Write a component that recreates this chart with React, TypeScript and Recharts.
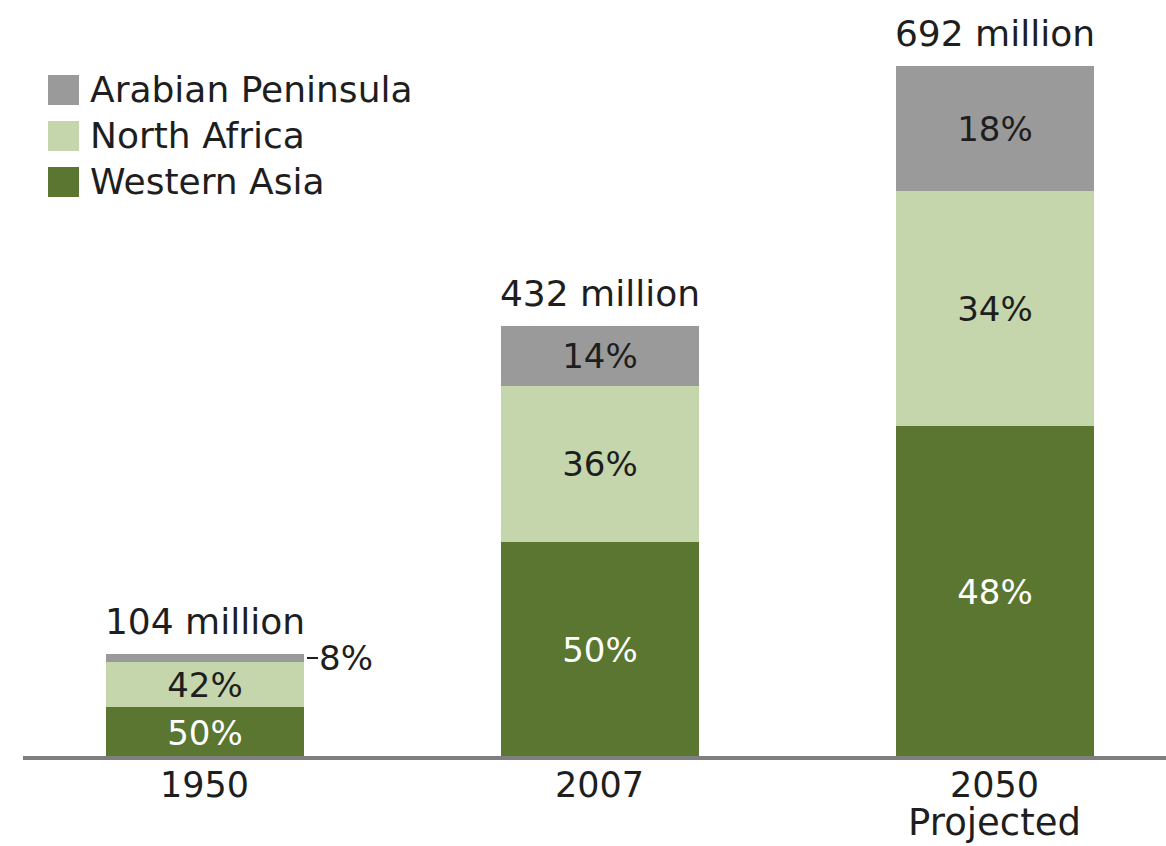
import React from 'react';
import { BarChart, Bar, XAxis, YAxis, Legend, LabelList } from 'recharts';

const years = ['1950', '2007', '2050'];
const yearNotes = ['', '', 'Projected'];
const westernAsia = [51, 216, 332];
const northAfrica = [45, 156, 235];
const arabianPeninsula = [8, 60, 125];
const totals = [104, 432, 692];
const westernAsiaPct = [50, 50, 48];
const northAfricaPct = [42, 36, 34];
const arabianPeninsulaPct = [8, 14, 18];

const WA_COLOR = '#5a7630';
const NA_COLOR = '#c5d6ad';
const AP_COLOR = '#9a9a9a';
const TEXT = '#1e1e1e';
const FONT = '"DejaVu Sans", Verdana, sans-serif';

const data = years.map((year, i) => ({
  year,
  wa: westernAsia[i],
  na: northAfrica[i],
  ap: arabianPeninsula[i],
}));

const pctLabel = (pcts: number[], color: string) => (props: any) => {
  const { x, y, width, height, index } = props;
  const txt = `${pcts[index]}%`;
  if (height < 20) {
    const cy = y + height / 2;
    return (
      <g>
        <line x1={x + width + 3} x2={x + width + 14} y1={cy} y2={cy} stroke={TEXT} strokeWidth={2} />
        <text x={x + width + 15} y={cy} dy="0.36em" fill={TEXT} fontSize={34} fontFamily={FONT} textAnchor="start">
          {txt}
        </text>
      </g>
    );
  }
  return (
    <text x={x + width / 2} y={y + height / 2} dy="0.36em" fill={color} fontSize={34} fontFamily={FONT} textAnchor="middle">
      {txt}
    </text>
  );
};

const totalLabel = (props: any) => {
  const { x, y, width, index } = props;
  return (
    <text x={x + width / 2} y={y - 20} fill={TEXT} fontSize={36} fontFamily={FONT} textAnchor="middle">
      {`${totals[index]} million`}
    </text>
  );
};

const YearTick = (props: any) => {
  const { x, y, payload } = props;
  const i = years.indexOf(payload.value);
  return (
    <text x={x} y={y + 39} fill={TEXT} fontSize={35} fontFamily={FONT} textAnchor="middle">
      <tspan x={x}>{payload.value}</tspan>
      {yearNotes[i] ? (
        <tspan x={x} dy={38} fontSize={37}>
          {yearNotes[i]}
        </tspan>
      ) : null}
    </text>
  );
};

const LegendContent = (props: any) => {
  const items = [...(props.payload || [])];
  return (
    <div style={{ fontFamily: FONT, fontSize: 36, color: TEXT }}>
      {items.map((it: any) => (
        <div key={it.value} style={{ display: 'flex', alignItems: 'center', height: 30, marginBottom: 16 }}>
          <div style={{ width: 31, height: 30, background: it.color, marginRight: 11 }} />
          <span style={{ lineHeight: '30px', whiteSpace: 'nowrap' }}>{it.value}</span>
        </div>
      ))}
    </div>
  );
};

export default function App() {
  return (
    <div style={{ width: 1166, height: 846 }}>
      <style>{'html,body{margin:0;padding:0;}'}</style>
      <BarChart width={1166} height={846} data={data} margin={{ top: 58, right: 0, bottom: 8, left: 23 }}>
        <XAxis
          dataKey="year"
          height={80}
          interval={0}
          tickLine={false}
          tickSize={0}
          tickMargin={0}
          axisLine={{ stroke: '#7f7f7f', strokeWidth: 4 }}
          tick={<YearTick />}
          padding={{ left: -16, right: -26 }}
        />
        <YAxis hide domain={[0, 700]} />
        <Legend
          layout="vertical"
          align="center"
          verticalAlign="middle"
          content={<LegendContent />}
          wrapperStyle={{ top: 75, left: 48, width: 'auto', height: 'auto' }}
        />
        <Bar dataKey="wa" name="Western Asia" stackId="s" fill={WA_COLOR} barSize={198} isAnimationActive={false}>
          <LabelList dataKey="wa" content={pctLabel(westernAsiaPct, '#ffffff')} />
        </Bar>
        <Bar dataKey="na" name="North Africa" stackId="s" fill={NA_COLOR} barSize={198} isAnimationActive={false}>
          <LabelList dataKey="na" content={pctLabel(northAfricaPct, TEXT)} />
        </Bar>
        <Bar dataKey="ap" name="Arabian Peninsula" stackId="s" fill={AP_COLOR} barSize={198} isAnimationActive={false}>
          <LabelList dataKey="ap" content={pctLabel(arabianPeninsulaPct, TEXT)} />
          <LabelList dataKey="ap" content={totalLabel} />
        </Bar>
      </BarChart>
    </div>
  );
}
